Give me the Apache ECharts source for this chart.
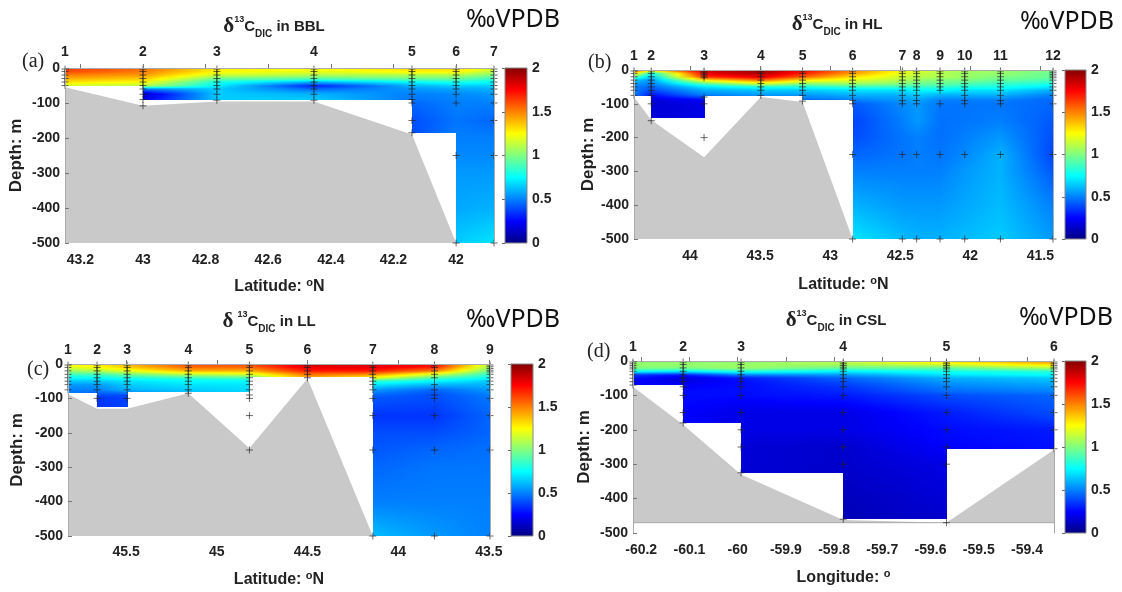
<!DOCTYPE html>
<html>
<head>
<meta charset="utf-8">
<script src="https://cdn.jsdelivr.net/npm/echarts@6/dist/echarts.min.js"></script>
<style>
  html, body { margin: 0; background: #fff; }
  #main { width: 1122px; height: 592px; }
</style>
</head>
<body>
<div id="main"></div>
<script>
// depth levels (m) at which each station profile is read
const depthLevels = [0, -10, -20, -30, -40, -50, -60, -75, -90, -100, -150, -200, -250, -300, -400, -500];

// (a) BBL
const bblLat = [43.249, 43.0, 42.764, 42.454, 42.141, 42.0, 41.879];
const bblTicks = [43.2, 43, 42.8, 42.6, 42.4, 42.2, 42];
const bblBottom = [-52, -92, -92, -92, -185, -500, -500];
const bblSeabed = [-55, -108, -96, -96, -190, -500, null];
const bblDic = [
  [1.65, 1.6, 1.5, 1.4, 1.3, 1.15, 1.1],
  [1.55, 1.5, 1.45, 1.35, 1.25, 1.1, 0.5, 0.15, 0.2, 0.25],
  [1.3, 1.25, 1.15, 0.95, 0.8, 0.72, 0.65, 0.65, 0.65, 0.65],
  [1.25, 1.2, 1.1, 0.9, 0.6, 0.3, 0.45, 0.6, 0.65, 0.65],
  [1.35, 1.25, 1.1, 0.95, 0.75, 0.6, 0.55, 0.5, 0.48, 0.45, 0.4, 0.4],
  [1.35, 1.25, 1.1, 0.95, 0.8, 0.65, 0.58, 0.52, 0.5, 0.5, 0.48, 0.5, 0.52, 0.55, 0.58, 0.65],
  [1.2, 1.1, 1.0, 0.85, 0.75, 0.65, 0.6, 0.55, 0.52, 0.5, 0.45, 0.5, 0.52, 0.55, 0.6, 0.7]
];
const bblSamples = [
  [-3, -10, -20, -30, -40, -50],
  [-3, -10, -20, -30, -40, -50, -60, -75, -90, -108],
  [-3, -10, -20, -30, -40, -50, -60, -75, -92],
  [-3, -10, -20, -30, -40, -50, -60, -75, -92],
  [-3, -10, -20, -30, -40, -50, -60, -75, -90, -100, -150, -185],
  [-3, -10, -20, -30, -40, -50, -60, -75, -100, -250, -500],
  [-3, -10, -20, -30, -40, -50, -60, -75, -100, -150, -250, -500]
];

// (b) HL
const hlLat = [44.40, 44.277, 43.90, 43.495, 43.197, 42.84, 42.485, 42.383, 42.216, 42.04, 41.785, 41.41];
const hlTicks = [44, 43.5, 43, 42.5, 42, 41.5];
const hlBottom = [-78, -143, -200, -78, -89, -500, -500, -500, -500, -500, -500, -500];
const hlSeabed = [-80, -148, -258, -80, -95, -500, null, null, null, null, null, null];
const hlDic = [
  [1.65, 1.35, 0.9, 0.65, 0.55, 0.5, 0.5, 0.5, 0.5],
  [1.5, 0.8, 0.65, 0.55, 0.5, 0.45, 0.4, 0.28, 0.18, 0.17, 0.17],
  [1.85, 1.8, 1.65, 1.3, 0.9, 0.7, 0.6, 0.5, 0.25, 0.2, 0.2, 0.25],
  [1.95, 1.92, 1.8, 1.55, 1.15, 0.8, 0.65, 0.55, 0.5],
  [1.75, 1.7, 1.55, 1.3, 1.0, 0.8, 0.65, 0.55, 0.45],
  [1.5, 1.45, 1.3, 1.2, 1.05, 0.85, 0.7, 0.6, 0.5, 0.42, 0.38, 0.4, 0.45, 0.5, 0.6, 0.7],
  [1.25, 1.2, 1.15, 1.1, 1.0, 0.85, 0.7, 0.6, 0.55, 0.52, 0.5, 0.48, 0.48, 0.5, 0.55, 0.62],
  [1.2, 1.15, 1.1, 1.05, 0.95, 0.85, 0.75, 0.65, 0.58, 0.55, 0.55, 0.5, 0.5, 0.5, 0.55, 0.6],
  [1.15, 1.1, 1.1, 1.0, 0.95, 0.85, 0.75, 0.6, 0.5, 0.48, 0.47, 0.47, 0.48, 0.5, 0.55, 0.6],
  [1.1, 1.05, 1.05, 1.0, 0.9, 0.8, 0.7, 0.6, 0.5, 0.48, 0.48, 0.5, 0.52, 0.55, 0.58, 0.62],
  [1.05, 1.05, 1.0, 0.95, 0.85, 0.8, 0.7, 0.6, 0.5, 0.48, 0.5, 0.55, 0.6, 0.6, 0.62, 0.65],
  [1.0, 0.95, 0.95, 0.9, 0.8, 0.7, 0.6, 0.5, 0.45, 0.45, 0.42, 0.4, 0.38, 0.42, 0.5, 0.55]
];
const hlSamples = [
  [-3, -10, -20, -30, -40, -50, -60, -75],
  [-3, -10, -20, -30, -40, -50, -60, -75, -100, -150],
  [-3, -8, -13, -18, -23, -80, -100, -200],
  [-3, -10, -20, -30, -40, -50, -60, -75],
  [-3, -10, -20, -30, -40, -50, -60, -75, -92],
  [-3, -10, -20, -30, -40, -50, -60, -75, -90, -100, -250, -500],
  [-3, -10, -20, -30, -40, -50, -60, -75, -90, -100, -250, -500],
  [-3, -10, -20, -30, -40, -50, -60, -75, -90, -100, -250, -500],
  [-3, -10, -20, -30, -40, -50, -60, -100, -250, -500],
  [-3, -10, -20, -30, -40, -50, -60, -75, -90, -100, -250, -500],
  [-3, -10, -20, -30, -40, -50, -60, -75, -90, -100, -250, -500],
  [-3, -8, -13, -18, -23, -30, -40, -50, -60, -75, -100, -250, -500]
];

// (c) LL
const llLat = [45.82, 45.66, 45.494, 45.157, 44.82, 44.5, 44.14, 43.80, 43.494];
const llTicks = [45.5, 45, 44.5, 44, 43.5];
const llBottom = [-85, -126, -126, -80, -150, -37, -500, -500, -500];
const llSeabed = [-88, -130, -130, -85, -245, -42, -500, null, null];
const llDic = [
  [1.25, 1.2, 1.05, 0.9, 0.75, 0.65, 0.55, 0.5, 0.5],
  [1.3, 1.25, 1.1, 0.9, 0.75, 0.65, 0.55, 0.5, 0.4, 0.35, 0.35],
  [1.4, 1.35, 1.2, 1.0, 0.8, 0.7, 0.65, 0.6, 0.4, 0.38, 0.38],
  [1.6, 1.55, 1.4, 1.15, 0.85, 0.75, 0.7, 0.65, 0.6],
  [1.6, 1.55, 1.4, 1.2, 0.9, 0.75, 0.7, 0.68, 0.65],
  [1.85, 1.8, 1.7, 1.55, 1.4],
  [1.8, 1.8, 1.7, 1.5, 1.2, 0.85, 0.7, 0.55, 0.45, 0.42, 0.35, 0.4, 0.42, 0.45, 0.5, 0.62],
  [1.75, 1.7, 1.5, 1.2, 0.9, 0.75, 0.6, 0.45, 0.4, 0.4, 0.35, 0.4, 0.45, 0.48, 0.5, 0.55],
  [1.1, 1.05, 0.95, 0.85, 0.75, 0.65, 0.6, 0.55, 0.5, 0.48, 0.45, 0.45, 0.47, 0.48, 0.5, 0.5]
];
const llSamples = [
  [-3, -10, -20, -30, -40, -50, -60, -75],
  [-3, -10, -20, -30, -40, -50, -60, -75, -100],
  [-3, -10, -20, -30, -40, -50, -60, -75, -100],
  [-3, -10, -20, -30, -40, -50, -60, -75, -85],
  [-3, -10, -20, -30, -40, -50, -60, -75, -90, -100, -150, -250],
  [-3, -10, -20, -30, -40],
  [-3, -10, -20, -30, -40, -50, -60, -75, -100, -150, -250, -500],
  [-3, -10, -20, -30, -40, -60, -75, -90, -100, -150, -250, -500],
  [-3, -8, -13, -18, -23, -30, -40, -50, -60, -75, -100, -150, -250, -500]
];

// (d) CSL
const cslLon = [-60.217, -60.113, -59.993, -59.781, -59.567, -59.344];
const cslTicks = [-60.2, -60.1, -60, -59.9, -59.8, -59.7, -59.6, -59.5, -59.4];
const cslBottom = [-70, -180, -325, -460, -465, -255];
const cslSeabed = [-75, -185, -330, -462, -470, -258];
const cslDic = [
  [1.0, 1.05, 1.0, 0.8, 0.35, 0.28, 0.25, 0.25],
  [1.0, 1.05, 1.0, 0.75, 0.3, 0.18, 0.2, 0.25, 0.27, 0.27, 0.25, 0.25],
  [1.0, 1.05, 1.05, 0.85, 0.5, 0.3, 0.27, 0.27, 0.27, 0.27, 0.2, 0.2, 0.17, 0.17, 0.17],
  [1.1, 1.1, 0.95, 0.75, 0.55, 0.45, 0.4, 0.35, 0.32, 0.3, 0.2, 0.2, 0.15, 0.15, 0.12, 0.1],
  [1.35, 1.2, 0.95, 0.8, 0.7, 0.6, 0.55, 0.5, 0.45, 0.4, 0.3, 0.27, 0.25, 0.2, 0.17, 0.15],
  [1.5, 1.35, 1.1, 0.85, 0.75, 0.65, 0.6, 0.55, 0.5, 0.45, 0.4, 0.3, 0.28, 0.28]
];
const cslSamples = [
  [-3, -8, -13, -18, -23, -30, -40, -50, -60, -70],
  [-3, -10, -20, -30, -40, -50, -60, -75, -100, -150, -180],
  [-3, -10, -20, -30, -40, -50, -60, -75, -100, -150, -200, -250, -325],
  [-3, -8, -13, -18, -23, -30, -40, -50, -60, -75, -100, -150, -200, -250, -300, -460],
  [-3, -8, -13, -18, -23, -30, -40, -50, -60, -75, -100, -150, -200, -250, -300, -470],
  [-3, -8, -13, -18, -23, -30, -40, -50, -60, -75, -100, -150, -200, -255]
];

const FONT = "'Liberation Sans', Arial, sans-serif";
const INK = "#222";

// MATLAB jet, value range 0..2
function jet(v) {
  const t = Math.max(0, Math.min(1, v / 2));
  const c = (x) => Math.round(255 * Math.max(0, Math.min(1, x)));
  const r = c(Math.min(4 * t - 1.5, -4 * t + 4.5));
  const g = c(Math.min(4 * t - 0.5, -4 * t + 3.5));
  const b = c(Math.min(4 * t + 0.5, -4 * t + 2.5));
  return "rgb(" + r + "," + g + "," + b + ")";
}

function profileAt(prof, d) {
  for (let j = 0; j < depthLevels.length - 1; j++) {
    const a = depthLevels[j], b = depthLevels[j + 1];
    if (d <= a && d >= b) {
      const va = prof[Math.min(j, prof.length - 1)];
      const vb = prof[Math.min(j + 1, prof.length - 1)];
      return va + (vb - va) * (a - d) / (a - b);
    }
  }
  return prof[prof.length - 1];
}

const option = {
  animation: false,
  backgroundColor: "#fff",
  grid: [], xAxis: [], yAxis: [], series: [], graphic: []
};

function fieldSeries(xi, yi, pos, bottom, dic) {
  const cells = [];
  for (let i = 0; i < pos.length - 1; i++) {
    const floor = Math.max(bottom[i], bottom[i + 1]);
    for (let j = 0; j < depthLevels.length - 1; j++) {
      if (depthLevels[j] > floor) cells.push([i, j]);
    }
  }
  return {
    type: "custom", xAxisIndex: xi, yAxisIndex: yi, z: 2, silent: true, data: cells,
    renderItem(params, api) {
      const i = api.value(0), j = api.value(1);
      const floor = Math.max(bottom[i], bottom[i + 1]);
      const top = depthLevels[j], bot = Math.max(depthLevels[j + 1], floor);
      const pA = api.coord([pos[i], top]), pB = api.coord([pos[i + 1], bot]);
      const flip = pA[0] > pB[0];
      const x0 = Math.round(Math.min(pA[0], pB[0])), x1 = Math.round(Math.max(pA[0], pB[0]));
      const y0 = Math.round(pA[1]), y1 = Math.round(pB[1]);
      const children = [];
      // one-pixel rows, each with a horizontal gradient between the two stations
      for (let y = y0; y < y1; y++) {
        const d = top + (bot - top) * (y + 0.5 - y0) / (y1 - y0);
        const vL = profileAt(dic[i], d), vR = profileAt(dic[i + 1], d);
        const stops = [0, 0.25, 0.5, 0.75, 1].map((s) => ({
          offset: s,
          color: jet(flip ? vR + (vL - vR) * s : vL + (vR - vL) * s)
        }));
        children.push({
          type: "rect",
          shape: { x: x0, y: y, width: x1 - x0 + 1, height: 1 },
          style: { fill: new echarts.graphic.LinearGradient(0, 0, 1, 0, stops) }
        });
      }
      return { type: "group", children };
    }
  };
}

function seabedSeries(xi, yi, pos, seabed, floor) {
  return {
    type: "custom", xAxisIndex: xi, yAxisIndex: yi, z: 1, silent: true, data: [0],
    renderItem(params, api) {
      const pts = [];
      pos.forEach((x, i) => { if (seabed[i] != null) pts.push(api.coord([x, seabed[i]])); });
      const last = pos[pts.length - 1];
      pts.push(api.coord([last, floor]), api.coord([pos[0], floor]));
      const children = [{ type: "polygon", shape: { points: pts }, style: { fill: "#c9c9c9" } }];
      if (floor > -500) {
        const a = api.coord([pos[0], floor]), b = api.coord([pos[pos.length - 1], floor]);
        children.push({ type: "line", shape: { x1: a[0], y1: a[1], x2: b[0], y2: b[1] }, style: { stroke: "#aaa", lineWidth: 1 } });
      }
      return { type: "group", children };
    }
  };
}

function sampleSeries(xi, yi, pos, samples) {
  const pts = [];
  samples.forEach((list, i) => list.forEach((d) => pts.push([pos[i], d])));
  return {
    type: "scatter", xAxisIndex: xi, yAxisIndex: yi, z: 4, silent: true, data: pts,
    symbol: "path://M0,5L10,5M5,0L5,10", symbolSize: 7,
    itemStyle: { color: "rgba(0,0,0,0)", borderColor: "#222", borderWidth: 0.8, opacity: 0.85 }
  };
}

function addPanel(p) {
  const g = option.grid.length;
  option.grid.push({ left: p.grid[0], top: p.grid[1], width: p.grid[2], height: p.grid[3] });
  option.grid.push({ left: p.bar[0], top: p.bar[1], width: p.bar[2], height: p.bar[3] });
  const xi = option.xAxis.length, yi = option.yAxis.length;
  const lo = Math.min(...p.pos), hi = Math.max(...p.pos);
  const frame = { show: true, lineStyle: { color: "#aaa", width: 1 } };
  option.xAxis.push({
    gridIndex: g, type: "value", min: lo, max: hi, inverse: p.inverse, position: "bottom", z: 5,
    axisLine: frame, splitLine: { show: false },
    axisTick: { show: true, inside: true, length: 4, customValues: p.ticks, lineStyle: { color: "#777" } },
    axisLabel: { customValues: p.ticks, formatter: (v) => String(v), margin: p.xMargin,
      fontFamily: FONT, fontWeight: "bold", fontSize: 14, color: INK },
    name: p.xName, nameLocation: "middle", nameGap: p.nameGap,
    nameTextStyle: { fontFamily: FONT, fontWeight: "bold", fontSize: 16, color: INK, lineHeight: 20,
      rich: { o: { fontFamily: FONT, fontWeight: "bold", fontSize: 11, color: INK, lineHeight: 12, verticalAlign: "top" } } }
  });
  option.xAxis.push({
    gridIndex: g, type: "value", min: lo, max: hi, inverse: p.inverse, position: "top", z: 5,
    axisLine: frame, splitLine: { show: false }, axisTick: { show: false },
    axisLabel: {
      customValues: p.pos, margin: p.topMargin,
      fontFamily: FONT, fontWeight: "bold", fontSize: 14, color: INK,
      formatter: (v) => {
        let best = 0;
        p.pos.forEach((x, i) => { if (Math.abs(x - v) < Math.abs(p.pos[best] - v)) best = i; });
        return String(best + 1);
      }
    }
  });
  option.xAxis.push({ gridIndex: g + 1, type: "value", min: 0, max: 1, show: false });
  option.yAxis.push({
    gridIndex: g, type: "value", min: -500, max: 0, interval: 100, z: 5,
    axisLine: frame, splitLine: { show: false },
    axisTick: { show: true, inside: true, length: 4, lineStyle: { color: "#777" } },
    axisLabel: { margin: 5, fontFamily: FONT, fontWeight: "bold", fontSize: 14, color: INK },
    name: "Depth: m", nameLocation: "middle", nameGap: p.yNameGap, nameRotate: 90,
    nameTextStyle: { fontFamily: FONT, fontWeight: "bold", fontSize: 17, color: INK }
  });
  option.yAxis.push({
    gridIndex: g, type: "value", min: -500, max: 0, position: "right", z: 5,
    axisLine: frame, splitLine: { show: false }, axisTick: { show: false }, axisLabel: { show: false }
  });
  option.yAxis.push({
    gridIndex: g + 1, type: "value", min: 0, max: 2, interval: 0.5, position: "right",
    axisLine: { show: true, lineStyle: { color: "#888" } }, splitLine: { show: false },
    axisTick: { show: true, inside: true, length: 3, lineStyle: { color: "#666" } },
    axisLabel: { margin: 5, fontFamily: FONT, fontWeight: "bold", fontSize: 14, color: INK }
  });

  option.series.push(seabedSeries(xi, yi, p.pos, p.seabed, p.floor));
  option.series.push(fieldSeries(xi, yi, p.pos, p.bottom, p.dic));
  option.series.push(sampleSeries(xi, yi, p.pos, p.samples));
  option.series.push({
    type: "custom", xAxisIndex: xi + 2, yAxisIndex: yi + 2, silent: true, data: [[0, 0]],
    renderItem(params, api) {
      const a = api.coord([0, 0]), b = api.coord([1, 2]);
      const stops = [];
      for (let k = 0; k <= 8; k++) stops.push({ offset: k / 8, color: jet(2 * k / 8) });
      return {
        type: "rect",
        shape: { x: a[0], y: b[1], width: b[0] - a[0], height: a[1] - b[1] },
        style: { fill: new echarts.graphic.LinearGradient(0, 1, 0, 0, stops), stroke: "#888", lineWidth: 1 }
      };
    }
  });

  option.graphic.push({
    type: "text", x: p.title[0], y: p.title[1], z: 10,
    style: {
      text: p.title[2], align: "center", verticalAlign: "middle", fill: INK,
      fontFamily: FONT, fontWeight: "bold", fontSize: 15,
      rich: {
        d: { fontFamily: "'Liberation Serif', serif", fontWeight: "bold", fontSize: 21, lineHeight: 24, fill: INK },
        sp: { fontFamily: FONT, fontWeight: "bold", fontSize: 9, lineHeight: 17, verticalAlign: "top", fill: INK },
        c: { fontFamily: FONT, fontWeight: "bold", fontSize: 15, lineHeight: 24, fill: INK },
        sb: { fontFamily: FONT, fontWeight: "bold", fontSize: 10, lineHeight: 8, verticalAlign: "bottom", fill: INK },
        t: { fontFamily: FONT, fontWeight: "bold", fontSize: 15, lineHeight: 24, fill: INK }
      }
    }
  });
  option.graphic.push({
    type: "text", x: p.unit[0], y: p.unit[1], z: 10,
    style: { text: "‰VPDB", fill: "#111", fontFamily: "'Noto Sans', sans-serif", fontSize: 25, verticalAlign: "middle" }
  });
  option.graphic.push({
    type: "text", x: p.tag[0], y: p.tag[1], z: 10,
    style: { text: p.tag[2], fill: INK, fontFamily: "'Liberation Serif', serif", fontSize: 20, verticalAlign: "middle" }
  });
}

addPanel({
  pos: bblLat, ticks: bblTicks, inverse: true, bottom: bblBottom, seabed: bblSeabed, floor: -500,
  dic: bblDic, samples: bblSamples,
  grid: [65, 68, 429, 175], bar: [505, 68, 22, 175],
  xName: "Latitude: {o|o}N", xMargin: 10, nameGap: 34, topMargin: 9, yNameGap: 40,
  title: [274, 27, "{d|δ}{sp|13}{c|C}{sb|DIC}{t| in BBL}"], unit: [466, 20], tag: [22, 62, "(a)"]
});
addPanel({
  pos: hlLat, ticks: hlTicks, inverse: true, bottom: hlBottom, seabed: hlSeabed, floor: -500,
  dic: hlDic, samples: hlSamples,
  grid: [634, 70, 419, 169], bar: [1065, 70, 21, 169],
  xName: "Latitude: {o|o}N", xMargin: 10, nameGap: 36, topMargin: 7, yNameGap: 37,
  title: [837, 25, "{d|δ}{sp|13}{c|C}{sb|DIC}{t| in HL}"], unit: [1020, 22], tag: [588, 63, "(b)"]
});
addPanel({
  pos: llLat, ticks: llTicks, inverse: true, bottom: llBottom, seabed: llSeabed, floor: -500,
  dic: llDic, samples: llSamples,
  grid: [68, 364, 422, 172], bar: [511, 364, 22, 172],
  xName: "Latitude: {o|o}N", xMargin: 9, nameGap: 34, topMargin: 7, yNameGap: 42,
  title: [269, 322, "{d|δ} {sp|13}{c|C}{sb|DIC}{t| in LL}"], unit: [466, 320], tag: [27, 370, "(c)"]
});
addPanel({
  pos: cslLon, ticks: cslTicks, inverse: false, bottom: cslBottom, seabed: cslSeabed, floor: -470,
  dic: cslDic, samples: cslSamples,
  grid: [633, 361, 421, 172], bar: [1065, 361, 21, 172],
  xName: "Longitude: {o|o}", xMargin: 10, nameGap: 35, topMargin: 7, yNameGap: 40,
  title: [836, 321, "{d|δ}{sp|13}{c|C}{sb|DIC}{t| in CSL}"], unit: [1019, 318], tag: [587, 352, "(d)"]
});

const chart = echarts.init(document.getElementById("main"));
chart.setOption(option);
</script>
</body>
</html>
